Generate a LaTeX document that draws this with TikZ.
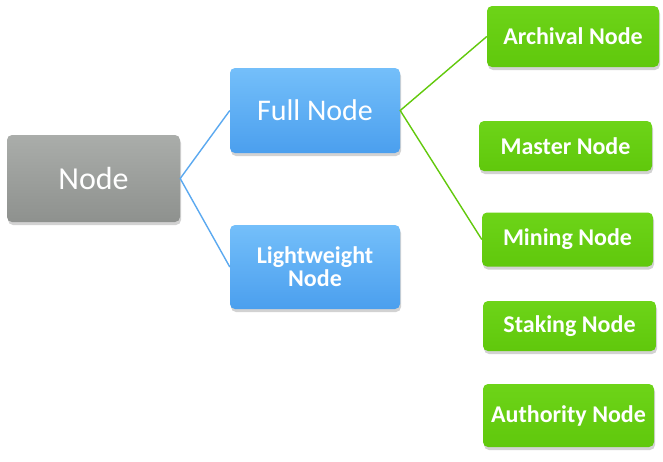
\documentclass[tikz,border=0pt]{standalone}
\usepackage{fontspec}
\setmainfont{Carlito}
\usetikzlibrary{shadows}
\definecolor{graytop}{HTML}{AAADAA}
\definecolor{graybot}{HTML}{8E918E}
\definecolor{bluetop}{HTML}{74BFFA}
\definecolor{bluebot}{HTML}{4B9FEE}
\definecolor{greentop}{HTML}{6DD418}
\definecolor{greenbot}{HTML}{60C80C}
\definecolor{bluelink}{HTML}{5BA9F0}
\definecolor{greenlink}{HTML}{62C90C}
\tikzset{
  box/.style={rectangle, rounded corners=5pt, inner sep=0pt, align=center, text=white,
    drop shadow={opacity=0.35, shadow xshift=1pt, shadow yshift=-3pt}},
  graybox/.style={box, top color=graytop, bottom color=graybot, font=\fontsize{32}{34}\selectfont},
  bluebox/.style={box, top color=bluetop, bottom color=bluebot},
  greenbox/.style={box, top color=greentop, bottom color=greenbot, font=\bfseries\fontsize{24}{26}\selectfont},
  bluelinkstyle/.style={draw=bluelink, line width=1.4pt},
  greenlinkstyle/.style={draw=greenlink, line width=1.4pt}
}
\begin{document}
\begin{tikzpicture}[x=1pt, y=-1pt]
\useasboundingbox[fill=white] (0,0) rectangle (663,461);
\node[graybox, minimum width=173pt, minimum height=87pt] (node) at (93.5,178.5) {Node};
\node[bluebox, minimum width=170pt, minimum height=85pt, font=\fontsize{30}{32}\selectfont] (full) at (315,110.5) {Full Node};
\node[bluebox, minimum width=170pt, minimum height=84pt, font=\bfseries\fontsize{24}{23}\selectfont] (light) at (315,267) {Lightweight\\Node};
\node[greenbox, minimum width=172pt, minimum height=61pt] (arch) at (573,36.5) {Archival Node};
\node[greenbox, minimum width=173pt, minimum height=50pt] (master) at (565.5,146) {Master Node};
\node[greenbox, minimum width=171pt, minimum height=54pt] (mining) at (567.5,239.5) {Mining Node};
\node[greenbox, minimum width=173pt, minimum height=50pt] (staking) at (569.5,326) {Staking Node};
\node[greenbox, minimum width=171pt, minimum height=63pt] (auth) at (568.5,415.5) {Authority Node};
\draw[bluelinkstyle] (light.west) -- (node.east) -- (full.west);
\draw[greenlinkstyle] (arch.west) -- (full.east) -- (mining.west);
\end{tikzpicture}
\end{document}
